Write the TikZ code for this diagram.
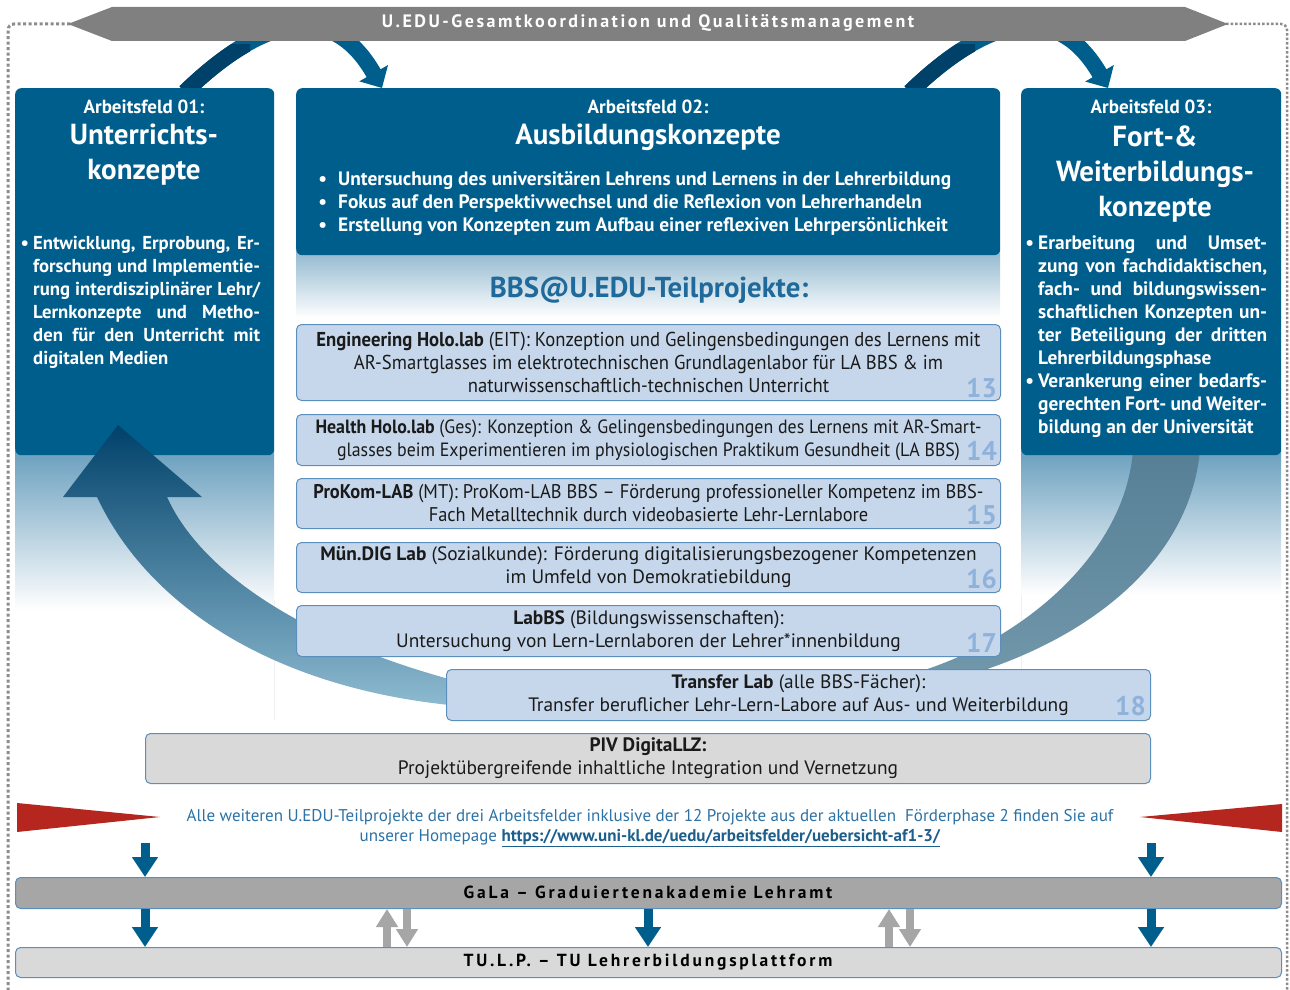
\documentclass[tikz,border=0pt]{standalone}
\usepackage{fontspec}
\setmainfont{PT Sans}
\newfontfamily\narrowfont[FakeStretch=0.93]{PT Sans}
\newfontfamily\trackfont[LetterSpace=14]{PT Sans}
\newfontfamily\widetrackfont[LetterSpace=16]{PT Sans}
\usetikzlibrary{arrows.meta}

\definecolor{afblue}{HTML}{005E8C}
\definecolor{afdark}{HTML}{00416A}
\definecolor{afmid}{HTML}{0C5E8C}
\definecolor{arrowlight}{HTML}{8DBAD0}
\definecolor{fadeblue}{HTML}{6A9FBE}
\definecolor{subfill}{HTML}{C6D7EC}
\definecolor{subedge}{HTML}{5B8FBD}
\definecolor{numblue}{HTML}{8FB2DB}
\definecolor{titleblue}{HTML}{1F6A9A}
\definecolor{infoblue}{HTML}{2C72A6}
\definecolor{linkblue}{HTML}{1D5F8C}
\definecolor{bannergray}{HTML}{808080}
\definecolor{dotgray}{HTML}{8C8C8C}
\definecolor{galagray}{HTML}{A6A6A6}
\definecolor{palegray}{HTML}{D9D9D9}
\definecolor{bandtop}{HTML}{567F96}
\definecolor{bandbot}{HTML}{7197AA}
\definecolor{redtri}{HTML}{B5261E}
\definecolor{textdark}{HTML}{1A1A1A}

\newcommand{\jl}[2]{\makebox[#1][s]{#2}}

\begin{document}
\begin{tikzpicture}[x=1pt,y=-1pt,
  afbox/.style={fill=afblue, rounded corners=6pt, anchor=north west, inner sep=0pt},
  subbox/.style={fill=subfill, draw=subedge, line width=1pt, rounded corners=5pt,
    anchor=north west, inner sep=0pt, align=center, text=textdark,
    font=\narrowfont\fontsize{#1}{23}\selectfont},
  subbox/.default=19.6,
  widebox/.style={subbox, font=\fontsize{19.4}{23}\selectfont},
  graybox/.style={widebox, fill=#1},
  numlabel/.style={anchor=base east, inner sep=0pt, text=numblue,
    font=\fontsize{27}{27}\selectfont\bfseries},
  fieldhead/.style={text=white, inner sep=0pt, font=\fontsize{19}{20}\selectfont\bfseries},
  fieldtitle/.style={text=white, inner sep=0pt, align=center,
    font=\fontsize{29}{35}\selectfont\bfseries},
  fieldtext/.style={text=white, inner sep=0pt, align=left, anchor=base west,
    font=\fontsize{#1}{23}\selectfont\bfseries},
  fieldtext/.default=19.4,
  bardown/.style={draw=afblue, line width=9pt, -{Triangle[width=25pt,length=20pt]}},
  barswap/.style={draw=galagray, line width=8pt, -{Triangle[width=21pt,length=18pt]}},
  looparrow/.style={draw=afblue, line width=16pt, -{Triangle[width=32pt,length=17pt]}},
  looptail/.style={draw=afdark, line width=16pt},
  tracked/.style={inner sep=0pt, font=\trackfont\fontsize{18}{20}\selectfont\bfseries},
  bartext/.style={inner sep=0pt, text=black, font=\widetrackfont\fontsize{17.5}{20}\selectfont\bfseries}
]
\useasboundingbox (0,0) rectangle (1290,990);
\fill[white] (0,0) rectangle (1290,990);

% dotted frame around everything
\draw[dotgray, line width=3pt, dash pattern=on 3pt off 2.5pt, rounded corners=6pt]
  (70,24) -- (8,24) -- (8,1000);
\draw[dotgray, line width=2.5pt, dash pattern=on 2.5pt off 2pt, rounded corners=6pt]
  (1226,24) -- (1287,24) -- (1287,1000);

% soft fades below the field boxes
\shade[top color=fadeblue, bottom color=white] (15,450) rectangle (274,610);
\shade[top color=fadeblue, bottom color=white] (1021,450) rectangle (1281,595);
\shade[top color=fadeblue!75, bottom color=white] (296,250) rectangle (1000,318);
\draw[gray!12] (274,600) -- (274,720);
\draw[gray!12] (1021,595) -- (1021,720);

% loop arrows between the fields (partly hidden by the banner)
\draw[looparrow] (185,92) .. controls (270,10) and (335,5) .. (382,88);
\draw[looparrow] (910,92) .. controls (995,10) and (1060,5) .. (1108,88);
\begin{scope}
  \clip (150,45) rectangle (250,88);
  \draw[looptail] (185,92) .. controls (270,10) and (335,5) .. (382,88);
\end{scope}
\begin{scope}
  \clip (875,45) rectangle (975,88);
  \draw[looptail] (910,92) .. controls (995,10) and (1060,5) .. (1108,88);
\end{scope}

% banner
\fill[bannergray] (68,24) -- (112,7) -- (1185,7) -- (1228,24) -- (1185,41) -- (112,41) -- cycle;
\node[tracked, text=white] (banner) at (648,23) {U.EDU-Gesamtkoordination und Qualitätsmanagement};

% band from field 03 down to the transfer lab
\shade[top color=bandtop, bottom color=bandbot]
  (1133,450) .. controls (1125,560) and (1010,650) .. (900,677)
  -- (962,677) .. controls (1090,640) and (1190,560) .. (1200,450) -- cycle;

% three working fields
\node[afbox, minimum width=259pt, minimum height=367pt] (af1) at (15,88) {};
\node[afbox, minimum width=704pt, minimum height=167pt] (af2) at (296,88) {};
\node[afbox, minimum width=260pt, minimum height=367pt] (af3) at (1021,88) {};

\node[fieldhead] (af1head) at (144,107) {Arbeitsfeld 01:};
\node[fieldtitle] (af1title) at (144,155) {Unterrichts-\\konzepte};
\node[fieldtext=18.7] (af1text) at (33,364) {%
\llap{\textbullet\hspace{4pt}}\jl{227pt}{Entwicklung, Erprobung, Er-}\\
\jl{227pt}{forschung und Implementie-}\\
\jl{227pt}{rung interdisziplinärer Lehr/}\\
\jl{227pt}{Lernkonzepte und Metho-}\\
\jl{227pt}{den für den Unterricht mit}\\
digitalen Medien};

\node[fieldhead] (af2head) at (648,107) {Arbeitsfeld 02:};
\node[fieldtitle] (af2title) at (648,137) {Ausbildungskonzepte};
\node[fieldtext] (af2text) at (338,231) {%
\llap{\textbullet\hspace{11pt}}Untersuchung des universitären Lehrens und Lernens in der Lehrerbildung\\
\llap{\textbullet\hspace{11pt}}Fokus auf den Perspektivwechsel und die Reflexion von Lehrerhandeln\\
\llap{\textbullet\hspace{11pt}}Erstellung von Konzepten zum Aufbau einer reflexiven Lehrpersönlichkeit};

\node[fieldhead] (af3head) at (1151,107) {Arbeitsfeld 03:};
\node[fieldtitle] (af3title) at (1155,174) {Fort-\&\\Weiterbildungs-\\konzepte};
\node[fieldtext] (af3text) at (1038,433) {%
\llap{\textbullet\hspace{4pt}}\jl{229pt}{Erarbeitung und Umset-}\\
\jl{229pt}{zung von fachdidaktischen,}\\
\jl{229pt}{fach- und bildungswissen-}\\
\jl{229pt}{schaftlichen Konzepten un-}\\
\jl{229pt}{ter Beteiligung der dritten}\\
Lehrerbildungsphase\\
\llap{\textbullet\hspace{4pt}}\jl{229pt}{Verankerung einer bedarfs-}\\
\jl{229pt}{gerechten Fort- und Weiter-}\\
bildung an der Universität};

% big arrow from the labs back up to field 01
\shade[top color=afdark, middle color=afmid, bottom color=arrowlight]
  (118,425) -- (202,497) -- (167,497)
  .. controls (200,570) and (300,640) .. (460,682)
  -- (460,706) .. controls (280,690) and (150,610) .. (97,497)
  -- (63,497) -- cycle;

\node[inner sep=0pt, text=titleblue, font=\fontsize{28.8}{32}\selectfont\bfseries] (bbstitle)
  at (649,290) {BBS@U.EDU-Teilprojekte:};

% sub-projects
\node[subbox=20.1, minimum width=704pt, minimum height=76pt] (p13) at (296,324)
  {\textbf{Engineering Holo.lab} (EIT): Konzeption und Gelingensbedingungen des Lernens mit\\
   AR-Smartglasses im elektrotechnischen Grundlagenlabor für LA BBS \& im\\
   naturwissenschaftlich-technischen Unterricht};
\node[numlabel] (n13) at (997,397) {13};

\node[subbox=19.2, minimum width=704pt, minimum height=51pt] (p14) at (296,414)
  {\textbf{Health Holo.lab} (Ges): Konzeption \& Gelingensbedingungen des Lernens mit AR-Smart-\\
   glasses beim Experimentieren im physiologischen Praktikum Gesundheit (LA BBS)};
\node[numlabel] (n14) at (997,460) {14};

\node[subbox=19.8, minimum width=704pt, minimum height=50pt] (p15) at (296,478)
  {\textbf{ProKom-LAB} (MT): ProKom-LAB BBS – Förderung professioneller Kompetenz im BBS-\\
   Fach Metalltechnik durch videobasierte Lehr-Lernlabore};
\node[numlabel] (n15) at (997,524) {15};

\node[widebox, minimum width=704pt, minimum height=50pt] (p16) at (296,542)
  {\textbf{Mün.DIG Lab} (Sozialkunde): Förderung digitalisierungsbezogener Kompetenzen\\
   im Umfeld von Demokratiebildung};
\node[numlabel] (n16) at (997,588) {16};

\node[widebox, minimum width=704pt, minimum height=51pt] (p17) at (296,605)
  {\textbf{LabBS} (Bildungswissenschaften):\\
   Untersuchung von Lern-Lernlaboren der Lehrer*innenbildung};
\node[numlabel] (n17) at (997,652) {17};

\node[widebox, minimum width=704pt, minimum height=51pt] (p18) at (446,669)
  {\textbf{Transfer Lab} (alle BBS-Fächer):\\
   Transfer beruflicher Lehr-Lern-Labore auf Aus- und Weiterbildung};
\node[numlabel] (n18) at (1146,715) {18};

\node[graybox=palegray, minimum width=1005pt, minimum height=50pt] (piv) at (145,733)
  {\textbf{PIV DigitaLLZ:}\\
   Projektübergreifende inhaltliche Integration und Vernetzung};

% pointer triangles and the note between them
\fill[redtri] (17,803) -- (160,817) -- (17,832) -- cycle;
\fill[redtri] (1282,804) -- (1140,817) -- (1282,832) -- cycle;
\node[inner sep=0pt, align=center, text=infoblue, font=\fontsize{17}{20}\selectfont] (info)
  at (650,828)
  {Alle weiteren U.EDU-Teilprojekte der drei Arbeitsfelder inklusive der 12 Projekte aus der aktuellen\ \ Förderphase 2 finden Sie auf\\
   unserer Homepage \textcolor{linkblue}{\underline{\textbf{https://www.uni-kl.de/uedu/arbeitsfelder/uebersicht-af1-3/}}}};

% platforms
\node[graybox=galagray, minimum width=1266pt, minimum height=31pt] (gala) at (15,877) {};
\node[bartext] (galatext) at (648,892) {GaLa – Graduiertenakademie Lehramt};
\node[graybox=palegray, minimum width=1266pt, minimum height=30pt] (tulp) at (15,947) {};
\node[bartext] (tulptext) at (648,962) {TU.L.P. – TU Lehrerbildungsplattform};

% connectors between the layers
\coordinate (dl) at (145,843);
\coordinate (dm) at (648,843);
\coordinate (dr) at (1151,843);
\draw[bardown] (dl) -- (dl |- gala.north);
\draw[bardown] (dr) -- (dr |- gala.north);
\draw[bardown] (gala.south -| dl) -- (dl |- tulp.north);
\draw[bardown] (gala.south -| dm) -- (dm |- tulp.north);
\draw[bardown] (gala.south -| dr) -- (dr |- tulp.north);

\coordinate (up1) at (387,0);
\coordinate (dn1) at (407,0);
\coordinate (up2) at (889,0);
\coordinate (dn2) at (910,0);
\draw[barswap] (tulp.north -| up1) -- (up1 |- gala.south);
\draw[barswap] (gala.south -| dn1) -- (dn1 |- tulp.north);
\draw[barswap] (tulp.north -| up2) -- (up2 |- gala.south);
\draw[barswap] (gala.south -| dn2) -- (dn2 |- tulp.north);
\end{tikzpicture}
\end{document}
